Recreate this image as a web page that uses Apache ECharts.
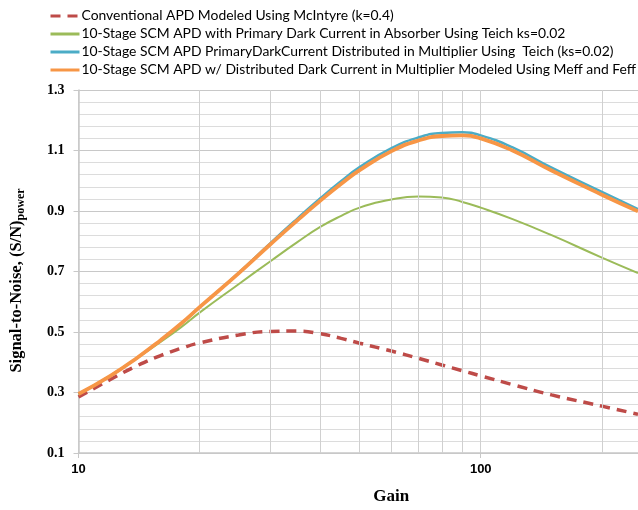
<!DOCTYPE html>
<html>
<head>
<meta charset="utf-8">
<script src="https://cdn.jsdelivr.net/npm/echarts@6/dist/echarts.min.js"></script>
<style>
  html, body { margin: 0; padding: 0; background: #fff; }
  #chart { width: 638px; height: 510px; }
</style>
</head>
<body>
<div id="chart"></div>
<script>
// gain values (x, log axis)
var gain = [10, 12, 14, 16, 18, 20, 25, 30, 35, 40, 45, 50, 60, 70, 80, 90, 100, 120, 150, 200, 246];

// S/N curves
var mcintyre = [0.285, 0.343, 0.389, 0.422, 0.446, 0.464, 0.490, 0.502, 0.503, 0.494, 0.479, 0.463, 0.437, 0.413, 0.391, 0.372, 0.355, 0.326, 0.292, 0.255, 0.228];
var teichAbsorber = [0.295, 0.355, 0.414, 0.467, 0.516, 0.564, 0.658, 0.734, 0.797, 0.848, 0.884, 0.911, 0.938, 0.948, 0.945, 0.930, 0.911, 0.873, 0.820, 0.746, 0.695];
var teichMultiplier = [0.295, 0.355, 0.415, 0.473, 0.528, 0.582, 0.695, 0.794, 0.875, 0.943, 0.999, 1.045, 1.108, 1.143, 1.158, 1.160, 1.150, 1.110, 1.043, 0.963, 0.906];
var meffFeff = [0.295, 0.355, 0.415, 0.473, 0.528, 0.582, 0.694, 0.790, 0.869, 0.935, 0.990, 1.035, 1.098, 1.133, 1.148, 1.150, 1.140, 1.100, 1.034, 0.954, 0.899];

// minor vertical gridlines of the log axis
var minorGain = [20, 30, 40, 50, 60, 70, 80, 90, 200];

var names = [
  "Conventional APD Modeled Using McIntyre (k=0.4)",
  "10-Stage SCM APD with Primary Dark Current in Absorber Using Teich ks=0.02",
  "10-Stage SCM APD PrimaryDarkCurrent Distributed in Multiplier Using  Teich (ks=0.02)",
  "10-Stage SCM APD w/ Distributed Dark Current in Multiplier Modeled Using Meff and Feff"
];

function pairs(ys) {
  return gain.map(function (g, i) { return [g, ys[i]]; });
}

var chart = echarts.init(document.getElementById("chart"), null, { renderer: "canvas" });

chart.setOption({
  animation: false,
  legend: {
    orient: "vertical",
    left: 44,
    top: 4,
    itemWidth: 29,
    itemHeight: 14,
    itemGap: 4,
    itemStyle: { opacity: 0 },
    lineStyle: { width: 3 },
    textStyle: { fontFamily: "Lato", fontSize: 13.9, color: "#000", padding: [0, 0, 0, -3] },
    data: names
  },
  grid: { left: 77, right: 0, top: 90, bottom: 56 },
  xAxis: {
    type: "log",
    min: 10,
    max: 246,
    logBase: 10,
    name: "Gain",
    nameLocation: "middle",
    nameGap: 35,
    nameTextStyle: {
      fontFamily: "Liberation Serif", fontWeight: "bold", fontSize: 17, color: "#000",
      padding: [0, 0, 0, 66]
    },
    axisLine: { lineStyle: { color: "#c8c8c8", width: 1.5 } },
    axisTick: { show: true, length: 5, lineStyle: { color: "#c8c8c8" } },
    axisLabel: {
      margin: 10,
      fontFamily: "Liberation Sans", fontWeight: "bold", fontSize: 13, color: "#000",
      showMaxLabel: false,
      formatter: function (v) { return (v === 10 || v === 100) ? String(v) : ""; }
    },
    splitLine: { show: true, lineStyle: { color: "#d0d0d0", width: 1 } }
  },
  yAxis: {
    type: "value",
    min: 0.1,
    max: 1.3,
    interval: 0.2,
    name: "{a|Signal-to-Noise, (S/N)}{b|power}",
    nameLocation: "middle",
    nameGap: 52,
    nameTextStyle: {
      padding: [0, 18, 0, 0],
      rich: {
        a: { fontFamily: "Liberation Serif", fontWeight: "bold", fontSize: 16.5, color: "#000" },
        b: { fontFamily: "Liberation Serif", fontWeight: "bold", fontSize: 12, color: "#000", verticalAlign: "bottom", padding: [8, 0, 0, 0] }
      }
    },
    axisLine: { show: true, lineStyle: { color: "#c8c8c8", width: 1.5 } },
    axisTick: { show: true, length: 5, lineStyle: { color: "#c8c8c8" } },
    axisLabel: {
      margin: 14,
      fontFamily: "Liberation Serif", fontWeight: "bold", fontSize: 14, color: "#000",
      formatter: function (v) { return v.toFixed(1); }
    },
    splitLine: { show: true, lineStyle: { color: "#c8c8c8", width: 1.2 } },
    minorTick: { show: false, splitNumber: 5 },
    minorSplitLine: { show: true, lineStyle: { color: "#dcdcdc", width: 1 } }
  },
  series: [
    {
      name: names[0],
      type: "line",
      smooth: true,
      symbol: "none",
      data: pairs(mcintyre),
      lineStyle: { color: "#BE4B48", width: 3.5, type: [10, 7] },
      itemStyle: { color: "#BE4B48" },
      markLine: {
        silent: true,
        symbol: "none",
        label: { show: false },
        lineStyle: { color: "#d0d0d0", width: 1, type: "solid" },
        data: minorGain.map(function (g) { return { xAxis: g }; })
      },
      z: 3
    },
    {
      name: names[1],
      type: "line",
      smooth: true,
      symbol: "none",
      data: pairs(teichAbsorber),
      lineStyle: { color: "#9BBB59", width: 2 },
      itemStyle: { color: "#9BBB59" },
      z: 4
    },
    {
      name: names[2],
      type: "line",
      smooth: true,
      symbol: "none",
      data: pairs(teichMultiplier),
      lineStyle: { color: "#4BACC6", width: 2.5 },
      itemStyle: { color: "#4BACC6" },
      z: 5
    },
    {
      name: names[3],
      type: "line",
      smooth: true,
      symbol: "none",
      data: pairs(meffFeff),
      lineStyle: { color: "#F79646", width: 3.8 },
      itemStyle: { color: "#F79646" },
      z: 6
    }
  ]
});
</script>
</body>
</html>
